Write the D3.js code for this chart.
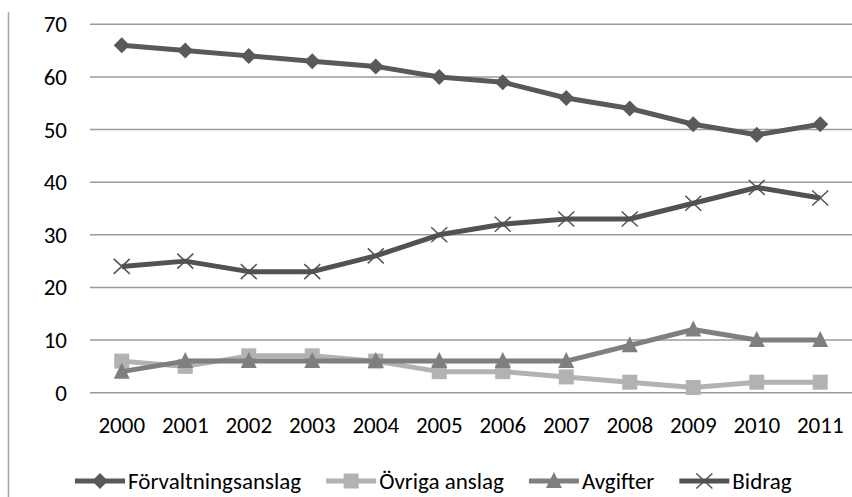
<!DOCTYPE html>
<html>
<head>
<meta charset="utf-8">
<script src="https://cdn.jsdelivr.net/npm/d3@7"></script>
<style>
  body { margin: 0; background: #fff; }
  svg text { font-family: Carlito, Lato, "Liberation Sans Narrow", sans-serif; fill: #000; }
</style>
</head>
<body>
<svg id="chart"></svg>
<script>
// --------------------
//  data
// --------------------
const years = ["2000", "2001", "2002", "2003", "2004", "2005", "2006", "2007", "2008", "2009", "2010", "2011"];
const forvaltningsanslag = [66, 65, 64, 63, 62, 60, 59, 56, 54, 51, 49, 51];
const ovrigaAnslag = [6, 5, 7, 7, 6, 4, 4, 3, 2, 1, 2, 2];
const avgifter = [4, 6, 6, 6, 6, 6, 6, 6, 9, 12, 10, 10];
const bidrag = [24, 25, 23, 23, 26, 30, 32, 33, 33, 36, 39, 37];
const yTicks = [0, 10, 20, 30, 40, 50, 60, 70];

const series = [
    {name: "Förvaltningsanslag", values: forvaltningsanslag, color: "#595959", marker: "diamond"},
    {name: "Övriga anslag", values: ovrigaAnslag, color: "#b2b2b2", marker: "square"},
    {name: "Avgifter", values: avgifter, color: "#7f7f7f", marker: "triangle"},
    {name: "Bidrag", values: bidrag, color: "#525252", marker: "cross"},
];

// --------------------
//  chart
// --------------------
const width = 852;
const height = 497;
const fontSize = "23px";
const svg = d3.select("#chart").attr("width", width).attr("height", height);

const x = d3.scaleBand().domain(years).range([90, 852]);
const y = d3.scaleLinear().domain([0, 70]).range([392.7, 24.3]);

// left frame line
svg.append("line")
    .attr("x1", 8.5).attr("x2", 8.5).attr("y1", 12).attr("y2", height)
    .attr("stroke", "#a6a6a6").attr("stroke-width", 1.5);

// gridlines
svg.append("g").selectAll("line")
    .data(yTicks)
    .join("line")
    .attr("x1", x.range()[0]).attr("x2", x.range()[1])
    .attr("y1", d => y(d)).attr("y2", d => y(d))
    .attr("stroke", "#9a9a9a").attr("stroke-width", 1.5);

// y labels
svg.append("g").selectAll("text")
    .data(yTicks)
    .join("text")
    .attr("x", 67).attr("y", d => y(d))
    .attr("dy", "0.35em")
    .attr("text-anchor", "end")
    .attr("font-size", fontSize)
    .text(d => d);

// x labels
svg.append("g").selectAll("text")
    .data(years)
    .join("text")
    .attr("x", d => x(d) + x.bandwidth() / 2).attr("y", 424.5)
    .attr("dy", "0.35em")
    .attr("text-anchor", "middle")
    .attr("font-size", fontSize)
    .text(d => d);

function drawMarker(g, type, color) {
    if (type === "diamond") {
        g.append("path").attr("d", "M0,-8L8,0L0,8L-8,0Z").attr("fill", color);
    } else if (type === "square") {
        g.append("rect").attr("x", -7.5).attr("y", -7.5).attr("width", 15).attr("height", 15).attr("fill", color);
    } else if (type === "triangle") {
        g.append("path").attr("d", "M0,-9L8,7L-8,7Z").attr("fill", color);
    } else {
        g.append("path").attr("d", "M-8,-7.5L8,7.5M-8,7.5L8,-7.5")
            .attr("stroke", color).attr("stroke-width", 1.5).attr("fill", "none");
    }
}

const line = d3.line()
    .x((d, i) => x(years[i]) + x.bandwidth() / 2)
    .y(d => y(d));

series.forEach(s => {
    const g = svg.append("g");
    g.append("path")
        .attr("d", line(s.values))
        .attr("fill", "none")
        .attr("stroke", s.color)
        .attr("stroke-width", 5)
        .attr("stroke-linejoin", "round");
    s.values.forEach((v, i) => {
        const m = g.append("g")
            .attr("transform", `translate(${x(years[i]) + x.bandwidth() / 2},${y(v)})`);
        drawMarker(m, s.marker, s.color);
    });
});

// legend
const legendY = 481;
let legendX = 75;
series.forEach(s => {
    const g = svg.append("g").attr("transform", `translate(${legendX},${legendY})`);
    g.append("line").attr("x1", 0).attr("x2", 50).attr("y1", 0).attr("y2", 0)
        .attr("stroke", s.color).attr("stroke-width", 5);
    const m = g.append("g").attr("transform", "translate(25,0)");
    drawMarker(m, s.marker, s.color);
    const t = g.append("text")
        .attr("x", 53).attr("y", 0).attr("dy", "0.35em")
        .attr("font-size", fontSize)
        .text(s.name);
    legendX += 53 + t.node().getComputedTextLength() + 25;
});
</script>
</body>
</html>
